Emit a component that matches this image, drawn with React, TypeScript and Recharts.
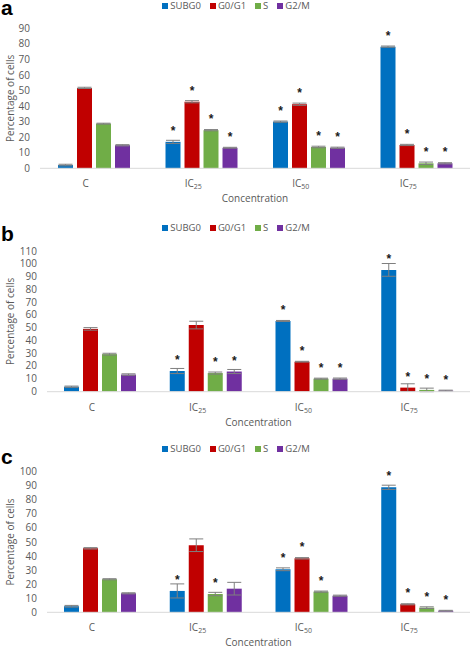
import React from 'react';
import { BarChart, Bar, XAxis, YAxis, ErrorBar, LabelList, Legend } from 'recharts';

const categories = ['C', 'IC25', 'IC50', 'IC75'];
const seriesNames = ['SUBG0', 'G0/G1', 'S', 'G2/M'];
const seriesColors = ['#0070C0', '#C00000', '#70AD47', '#7030A0'];

// Panel a
const aSubG0 = [2.1, 17, 30, 78.2];
const aG0G1 = [51.7, 42.8, 41.2, 15];
const aS = [28.7, 24.5, 13.7, 3.2];
const aG2M = [14.8, 13.2, 13.2, 3.2];
const aSubG0Err = [0.5, 1, 0.4, 0.4];
const aG0G1Err = [0.4, 0.7, 0.7, 0.4];
const aSErr = [0.3, 0.4, 0.5, 0.8];
const aG2MErr = [0.4, 0.3, 0.4, 0.4];
const aSubG0Sig = [0, 1, 1, 1];
const aG0G1Sig = [0, 1, 1, 1];
const aSSig = [0, 1, 1, 1];
const aG2MSig = [0, 1, 1, 1];
const aTicks = [0, 10, 20, 30, 40, 50, 60, 70, 80, 90];

// Panel b
const bSubG0 = [3.7, 16, 55.2, 95.2];
const bG0G1 = [49, 52, 23.3, 3];
const bS = [29.2, 14.4, 10, 1.2];
const bG2M = [13.2, 15.6, 10, 0.6];
const bSubG0Err = [0.5, 2, 0.4, 5];
const bG0G1Err = [1, 3, 0.3, 3];
const bSErr = [0.7, 0.8, 0.4, 1.4];
const bG2MErr = [0.6, 1.6, 0.5, 0.4];
const bSubG0Sig = [0, 1, 1, 1];
const bG0G1Sig = [0, 0, 1, 1];
const bSSig = [0, 1, 1, 1];
const bG2MSig = [0, 1, 1, 1];
const bTicks = [0, 10, 20, 30, 40, 50, 60, 70, 80, 90, 100, 110];

// Panel c
const cSubG0 = [4.3, 15.2, 30.6, 88.9];
const cG0G1 = [45.5, 47.7, 38.4, 5.7];
const cS = [23.5, 13, 14.7, 3.3];
const cG2M = [13.5, 16.8, 11.8, 1.1];
const cSubG0Err = [0.6, 5, 1, 1.5];
const cG0G1Err = [0.5, 4.5, 0.5, 0.4];
const cSErr = [0.4, 1.2, 0.4, 0.6];
const cG2MErr = [0.4, 4.5, 0.4, 0.3];
const cSubG0Sig = [0, 1, 1, 1];
const cG0G1Sig = [0, 0, 1, 1];
const cSSig = [0, 1, 1, 1];
const cG2MSig = [0, 0, 0, 1];
const cTicks = [0, 10, 20, 30, 40, 50, 60, 70, 80, 90, 100];

const FONT = '"Open Sans", sans-serif';
const GREY = '#595959';

const CatTick = (props: any) => {
  const { x, y, payload } = props;
  const v: string = String(payload.value);
  const isIC = v.startsWith('IC');
  return (
    <text x={x - 8} y={y + 11} textAnchor="middle" fill={GREY} fontSize={10} fontFamily={FONT}>
      <tspan>{isIC ? 'IC' : v}</tspan>
      {isIC ? <tspan fontSize={7} dy={2}>{v.slice(2)}</tspan> : null}
    </text>
  );
};

const Star = (props: any) => {
  const { x, y, width, value } = props;
  if (!value) return null;
  return (
    <text
      x={Number(x) + Number(width) / 2}
      y={Number(y) - 7}
      textAnchor="middle"
      fill="#1a1a1a"
      style={{ fill: '#1a1a1a' }}
      fontSize={12}
      fontWeight="bold"
      fontFamily="Arial, 'Liberation Sans', sans-serif"
    >
      *
    </text>
  );
};

const LegendContent = () => (
  <div style={{ display: 'flex', justifyContent: 'center', alignItems: 'center', width: 472, height: 12, fontFamily: FONT, fontSize: 9.5, color: GREY, lineHeight: '12px' }}>
    {seriesNames.map((n, k) => (
      <div key={n} style={{ display: 'flex', alignItems: 'center', marginRight: k < 3 ? 9 : 0 }}>
        <span style={{ display: 'inline-block', width: 6, height: 6, background: seriesColors[k], marginRight: 2 }} />
        <span>{n}</span>
      </div>
    ))}
  </div>
);

type PanelProps = {
  letter: string;
  top: number;
  height: number;
  plotTop: number;
  plotBottom: number;
  left: number;
  letterBaseline: number;
  ticks: number[];
  values: number[][];
  errors: number[][];
  sigs: number[][];
};

function Panel(p: PanelProps) {
  const data = categories.map((c, i) => {
    const row: any = { cat: c };
    p.values.forEach((arr, k) => {
      row['v' + k] = arr[i];
      row['e' + k] = p.errors[k][i];
      row['s' + k] = p.sigs[k][i];
    });
    return row;
  });
  const max = p.ticks[p.ticks.length - 1];
  const midY = (p.plotTop + p.plotBottom) / 2;
  const midX = (p.left + 470) / 2;
  return (
    <div style={{ position: 'absolute', left: 0, top: p.top, width: 472, height: p.height }}>
      <BarChart
        width={472}
        height={p.height}
        data={data}
        margin={{ top: p.plotTop, right: 2, left: 0, bottom: 0 }}
        barSize={15}
        barGap={4}
      >
        <XAxis
          dataKey="cat"
          height={p.height - p.plotBottom}
          tickLine={false}
          axisLine={{ stroke: '#D9D9D9' }}
          tick={<CatTick />}
          interval={0}
        />
        <YAxis
          width={p.left}
          domain={[0, max]}
          ticks={p.ticks}
          interval={0}
          tickLine={false}
          axisLine={false}
          tickMargin={4}
          tick={{ fill: GREY, fontSize: 10, fontFamily: FONT }}
        />
        <Legend
          verticalAlign="middle"
          align="center"
          layout="horizontal"
          content={<LegendContent />}
          wrapperStyle={{ top: 0, left: 0, width: 472, height: 12 }}
        />
        {seriesNames.map((n, k) => (
          <Bar key={n} dataKey={'v' + k} name={n} fill={seriesColors[k]} isAnimationActive={false}>
            <ErrorBar dataKey={'e' + k} width={7} stroke="#7F7F7F" strokeWidth={1} />
            <LabelList dataKey={'s' + k} content={<Star />} />
          </Bar>
        ))}
      </BarChart>
      <svg width={472} height={p.height + 6} style={{ position: 'absolute', left: 0, top: 0, pointerEvents: 'none', overflow: 'visible' }}>
        <text x={1} y={p.letterBaseline} fontFamily="Arial, 'Liberation Sans', sans-serif" fontWeight="bold" fontSize={21} fill="#000">
          {p.letter}
        </text>
        <text
          x={14}
          y={midY}
          transform={`rotate(-90 14 ${midY})`}
          textAnchor="middle"
          fontFamily={FONT}
          fontSize={10}
          fill={GREY}
        >
          Percentage of cells
        </text>
        <text x={midX} y={p.plotBottom + 34} textAnchor="middle" fontFamily={FONT} fontSize={10} fill={GREY}>
          Concentration
        </text>
      </svg>
    </div>
  );
}

export default function App() {
  return (
    <div style={{ position: 'absolute', left: 0, top: 0, width: 472, height: 648, background: '#fff', overflow: 'hidden' }}>
      <Panel
        letter="a"
        top={0}
        height={222}
        plotTop={28.3}
        plotBottom={168.3}
        left={40}
        letterBaseline={15}
        ticks={aTicks}
        values={[aSubG0, aG0G1, aS, aG2M]}
        errors={[aSubG0Err, aG0G1Err, aSErr, aG2MErr]}
        sigs={[aSubG0Sig, aG0G1Sig, aSSig, aG2MSig]}
      />
      <Panel
        letter="b"
        top={222}
        height={221}
        plotTop={29}
        plotBottom={169.7}
        left={47}
        letterBaseline={19}
        ticks={bTicks}
        values={[bSubG0, bG0G1, bS, bG2M]}
        errors={[bSubG0Err, bG0G1Err, bSErr, bG2MErr]}
        sigs={[bSubG0Sig, bG0G1Sig, bSSig, bG2MSig]}
      />
      <Panel
        letter="c"
        top={443}
        height={205}
        plotTop={28.7}
        plotBottom={169.3}
        left={47}
        letterBaseline={21}
        ticks={cTicks}
        values={[cSubG0, cG0G1, cS, cG2M]}
        errors={[cSubG0Err, cG0G1Err, cSErr, cG2MErr]}
        sigs={[cSubG0Sig, cG0G1Sig, cSSig, cG2MSig]}
      />
    </div>
  );
}
